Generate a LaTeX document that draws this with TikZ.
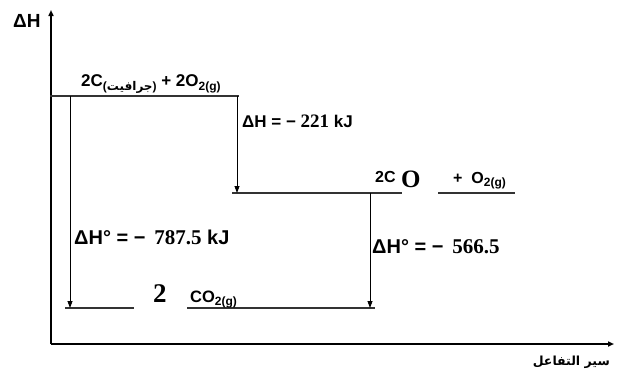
\documentclass[tikz,border=0pt]{standalone}
\usepackage{fontspec}
\setmainfont{Liberation Sans}
\newfontfamily\tmsfont{Liberation Serif}
\newfontfamily\arabicfont[Script=Arabic]{DejaVu Sans}
\TeXXeTstate=1
\usetikzlibrary{arrows.meta}
\newcommand\sbx[1]{\raisebox{-0.45ex}{\fontsize{12}{14}\selectfont #1}}
\tikzset{
  lbl/.style={inner sep=0pt, anchor=base west, font=\fontsize{17}{20}\selectfont\bfseries},
  biglbl/.style={lbl, font=\fontsize{20}{24}\selectfont\bfseries},
  axis/.style={line width=1.6pt, -{Triangle[length=6pt,width=5pt]}},
  level/.style={line width=1.1pt, draw=black!80},
  drop/.style={line width=0.8pt, -{Triangle[length=7pt,width=5pt]}}
}
\begin{document}
\begin{tikzpicture}[x=1pt,y=-1pt]
\useasboundingbox (0,0) rectangle (633,376);
% axes
\coordinate (O) at (51,344);
\coordinate (Ytop) at (51,10);
\coordinate (Xend) at (614,344);
\draw[axis] (O) -- (Ytop);
\draw[axis] (O) -- (Xend);
\node[lbl, font=\fontsize{19}{22}\selectfont\bfseries] (ylab) at (13,27) {ΔH};
\node[inner sep=0pt, anchor=base east, font=\fontsize{12.5}{15}\selectfont] (xlab) at (610,365) {\arabicfont\bfseries\beginR سير التفاعل\endR};
% levels
\coordinate (t1) at (50,96); \coordinate (t2) at (239,96);
\draw[level] (t1) -- (t2);
\coordinate (m1) at (232,193); \coordinate (m2) at (402,193);
\coordinate (m3) at (438,193); \coordinate (m4) at (515,193);
\draw[level] (m1) -- (m2);
\draw[level] (m3) -- (m4);
\coordinate (b1) at (65,308); \coordinate (b2) at (134,308);
\coordinate (b3) at (187,308); \coordinate (b4) at (375,308);
\draw[level] (b1) -- (b2);
\draw[level] (b3) -- (b4);
% arrows
\coordinate (a1s) at (70,96); \coordinate (a1e) at (70,308);
\coordinate (a2s) at (237,96); \coordinate (a2e) at (237,193);
\coordinate (a3s) at (370,193); \coordinate (a3e) at (370,308);
\draw[drop] (a1s) -- (a1e);
\draw[drop] (a2s) -- (a2e);
\draw[drop] (a3s) -- (a3e);
% labels
\node[lbl] (top) at (81,86) {2C\sbx{({\arabicfont\beginR جرافيت\endR})} + 2O\sbx{2(g)}};
\node[lbl] (dh1) at (242,127) {ΔH = − {\tmsfont\fontsize{19}{22}\selectfont 221} kJ};
\node[lbl, font=\fontsize{16}{19}\selectfont\bfseries] (mid) at (375,182) {2C};
\node[lbl, font=\fontsize{25}{28}\selectfont\bfseries\tmsfont] (midO) at (401,187) {O};
\node[lbl, font=\fontsize{16}{19}\selectfont\bfseries] (mid2) at (453,183) {+ \ O\sbx{2(g)}};
\node[biglbl] (dh3) at (74,244) {ΔH° = − \,{\tmsfont\fontsize{21}{24}\selectfont 787.5} kJ};
\node[biglbl] (dh2) at (372,253) {ΔH° = − \,{\tmsfont\fontsize{21}{24}\selectfont 566.5}};
\node[lbl, font=\fontsize{27}{30}\selectfont\bfseries\tmsfont] (two) at (153,302) {2};
\node[lbl, font=\fontsize{16.5}{19}\selectfont\bfseries] (co2) at (190,302) {CO\sbx{2(g)}};
\end{tikzpicture}
\end{document}
